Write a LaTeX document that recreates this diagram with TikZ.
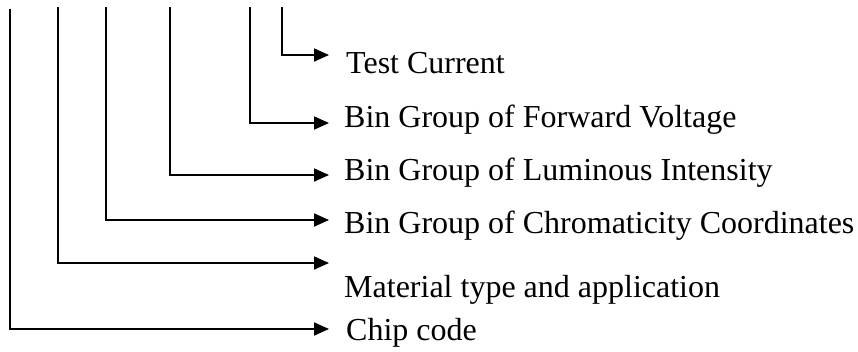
\documentclass[tikz,border=0pt]{standalone}
\usepackage{fontspec}
\setmainfont{Liberation Serif}
\usetikzlibrary{arrows.meta}
\begin{document}
\begin{tikzpicture}[x=1pt,y=1pt,
  lbl/.style={anchor=base west,inner sep=0pt,font=\fontsize{32}{38}\selectfont},
  conn/.style={line width=1.8pt,-{Triangle[length=15pt,width=13pt]}}]
\useasboundingbox (0,0) rectangle (858,-351);
% labels
\node[lbl] (l1) at (346,-73) {Test Current};
\node[lbl] (l2) at (344,-127) {Bin Group of Forward Voltage};
\node[lbl] (l3) at (344,-180) {Bin Group of Luminous Intensity};
\node[lbl] (l4) at (344,-233) {Bin Group of Chromaticity Coordinates};
\node[lbl] (l5) at (344,-297) {Material type and application};
\node[lbl] (l6) at (346,-340) {Chip code};
% line tops
\coordinate (s1) at (282,-7);
\coordinate (s2) at (250,-7);
\coordinate (s3) at (170,-7);
\coordinate (s4) at (106,-7);
\coordinate (s5) at (58,-7);
\coordinate (s6) at (10,-9);
% arrow tips
\coordinate (t1) at (329,-55);
\coordinate (t2) at (329,-123);
\coordinate (t3) at (329,-175);
\coordinate (t4) at (329,-220);
\coordinate (t5) at (329,-263);
\coordinate (t6) at (329,-329);
\foreach \i in {1,...,6}{
  \draw[conn] (s\i) |- (t\i);
}
\end{tikzpicture}
\end{document}
